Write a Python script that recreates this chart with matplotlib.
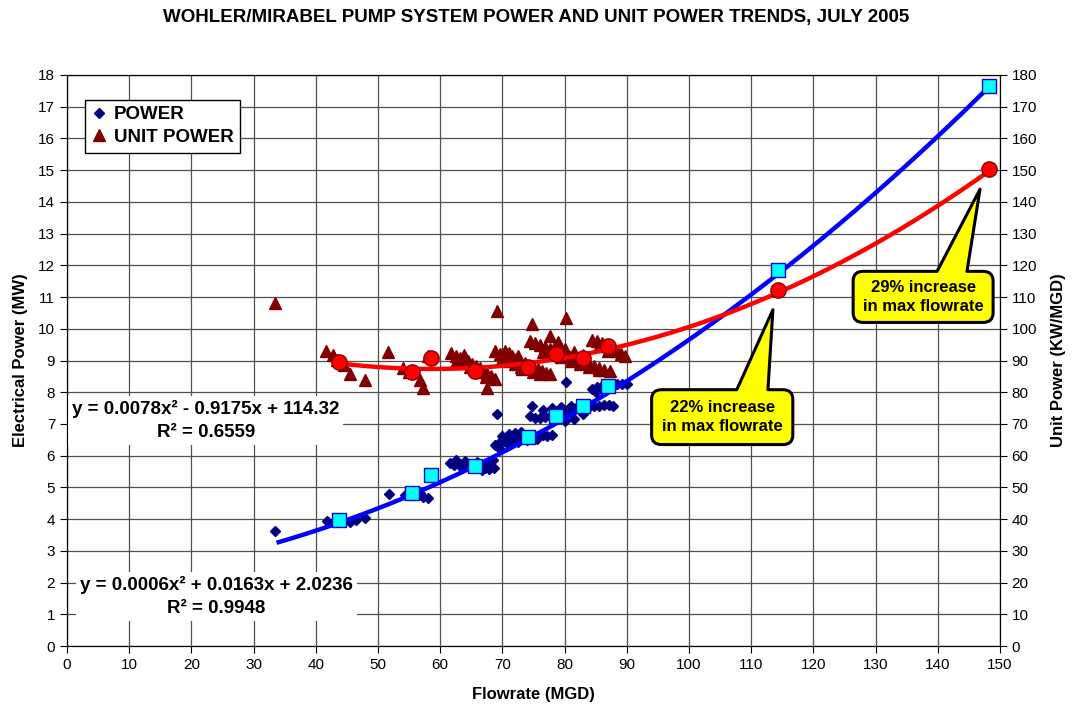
import numpy as np
import matplotlib
matplotlib.use('Agg')
import matplotlib.pyplot as plt
from matplotlib.path import Path
from matplotlib.patches import PathPatch
from matplotlib.lines import Line2D

plt.rcParams['font.family'] = ['Liberation Sans', 'DejaVu Sans']

# daily points - power (MW) vs flowrate (MGD)
pow_pts = [(33.5, 3.63), (41.8, 3.95), (43.0, 3.92), (45.5, 3.92), (46.5, 3.98), (47.9, 4.02),
           (51.7, 4.80), (54.3, 4.77), (55.0, 4.75), (57.3, 4.70), (56.8, 4.82), (58.0, 4.68),
           (69.1, 7.32), (80.2, 8.31),
           # ~62-69 MGD
           (61.6, 5.77), (62.3, 5.72), (63.0, 5.75), (63.7, 5.70), (64.4, 5.74), (65.1, 5.68),
           (65.8, 5.72), (66.5, 5.66), (67.2, 5.60), (67.9, 5.58), (68.6, 5.62), (62.5, 5.85),
           (64.0, 5.82), (66.0, 5.80), (67.5, 5.75), (68.5, 5.85), (66.8, 5.55), (63.5, 5.62),
           # ~69-78 MGD
           (68.8, 6.35), (69.5, 6.40), (70.2, 6.46), (70.9, 6.52), (71.6, 6.56), (72.3, 6.60),
           (73.0, 6.62), (73.7, 6.64), (74.4, 6.60), (75.1, 6.64), (75.8, 6.62), (76.5, 6.66),
           (77.2, 6.62), (78.0, 6.66), (70.0, 6.62), (71.0, 6.68), (72.0, 6.70), (69.5, 6.25),
           (71.0, 6.35), (72.5, 6.42), (74.0, 6.48), (75.5, 6.52), (73.0, 6.75),
           # ~74-88 MGD
           (74.4, 7.24), (75.2, 7.20), (76.0, 7.18), (76.8, 7.22), (77.6, 7.26), (78.4, 7.30),
           (79.2, 7.34), (80.0, 7.38), (80.8, 7.40), (81.6, 7.44), (82.4, 7.48), (83.2, 7.52),
           (84.0, 7.55), (84.8, 7.57), (85.6, 7.58), (86.4, 7.60), (87.2, 7.60), (87.8, 7.58),
           (76.5, 7.45), (78.0, 7.50), (79.5, 7.55), (81.0, 7.58), (82.5, 7.62), (80.0, 7.10),
           (81.5, 7.15), (83.0, 7.30), (74.8, 7.58),
           # ~84-90 MGD
           (84.4, 8.10), (85.2, 8.15), (86.0, 8.20), (86.8, 8.24), (87.6, 8.26), (88.4, 8.25),
           (89.2, 8.26), (90.0, 8.25), (85.0, 8.02), (86.5, 8.05)]

# daily points - unit power (KW/MGD) vs flowrate (MGD)
unit_pts = [(33.4, 108.2), (41.7, 92.9), (42.7, 91.7), (43.4, 90.3), (44.5, 88.5), (45.5, 85.9),
            (47.9, 84.0), (51.6, 92.6), (54.1, 87.7), (55.0, 86.5), (56.7, 84.0), (57.3, 81.4),
            (58.1, 91.4), (67.5, 81.4), (73.1, 87.2),
            (69.1, 105.6), (74.7, 101.4), (80.2, 103.5), (77.7, 97.7), (79.0, 95.8),
            # ~62-69 MGD
            (61.8, 92.4), (62.5, 91.5), (63.2, 90.8), (63.8, 91.6), (64.5, 89.8), (65.2, 89.0),
            (65.8, 88.2), (66.4, 87.5), (67.0, 86.6), (67.6, 85.8), (68.2, 85.0), (68.8, 84.2),
            (63.0, 89.8), (64.8, 88.0), (66.0, 86.5), (67.3, 84.8), (62.5, 89.5),
            # ~69-78 MGD
            (68.8, 92.9), (69.6, 92.2), (70.3, 91.9), (71.0, 92.4), (71.6, 91.5), (72.2, 90.6),
            (72.9, 89.9), (73.6, 89.2), (74.3, 88.4), (75.0, 87.8), (75.7, 87.2), (76.4, 86.6),
            (77.0, 86.0), (77.7, 85.6), (70.0, 90.5), (71.0, 89.8), (72.0, 88.8), (73.0, 88.0),
            (74.0, 87.5), (75.0, 86.5), (76.0, 85.6), (70.5, 93.0), (72.5, 91.5),
            # ~74-87 MGD
            (74.4, 96.1), (75.2, 95.4), (76.0, 94.9), (76.8, 94.3), (77.6, 93.6), (78.4, 93.0),
            (79.2, 92.4), (80.0, 91.8), (80.8, 91.2), (81.6, 90.6), (82.4, 90.0), (83.2, 89.4),
            (84.0, 88.8), (84.8, 88.2), (85.6, 87.6), (86.4, 87.0), (87.3, 86.6), (76.5, 92.8),
            (78.0, 92.2), (79.5, 91.0), (81.0, 90.0), (82.5, 89.0), (84.0, 87.8), (85.5, 87.0),
            (80.0, 93.5), (81.5, 92.6), (83.0, 91.6), (78.5, 94.6),
            # ~84-90 MGD
            (84.4, 96.6), (85.2, 96.0), (86.0, 95.4), (86.8, 94.6), (87.6, 93.8), (88.4, 93.0),
            (89.0, 92.2), (89.7, 91.4), (85.5, 94.5), (87.0, 93.0)]

# averages + projected max flowrate points
avg_x = [43.8, 55.5, 58.6, 65.6, 74.2, 78.6, 82.9, 87.0, 114.3, 148.2]
avg_pow = [3.96, 4.82, 5.38, 5.69, 6.58, 7.26, 7.58, 8.21, 11.84, 17.65]
avg_unit = [89.6, 86.3, 90.8, 86.8, 88.0, 91.9, 90.8, 94.5, 112.1, 150.3]

# polynomial trendlines as printed on the chart
pow_coef = [0.0006, 0.0163, 2.0236]
unit_coef = [0.0078, -0.9175, 114.32]
pow_range = [33.7, 148.2]
unit_range = [43.8, 148.2]

pow_x, pow_y = zip(*pow_pts)
unit_x, unit_y = zip(*unit_pts)

fig = plt.figure(figsize=(10.73, 7.10), dpi=100)
ax = fig.add_axes([0.0624, 0.0901, 0.8695, 0.8043])
ax2 = ax.twinx()

ax.set_xlim(0, 150)
ax.set_ylim(0, 18)
ax2.set_ylim(0, 180)
ax.set_xticks(np.arange(0, 151, 10))
ax.set_yticks(np.arange(0, 19, 1))
ax2.set_yticks(np.arange(0, 181, 10))
ax.grid(True, color='#505050', linewidth=0.9, zorder=0)
ax.set_axisbelow(True)
for a in (ax, ax2):
    a.tick_params(labelsize=11, direction='out', length=5, color='black')
    for s in a.spines.values():
        s.set_color('black')

# unit power is drawn on the MW axis scaled by 1/10 (right axis = 10x left)
ax.plot(unit_x, np.array(unit_y) / 10.0, linestyle='none', marker='^', markersize=8,
        color='#800000', zorder=3)
ax.plot(pow_x, pow_y, linestyle='none', marker='D', markersize=5.5, color='#000080', zorder=3)

xx = np.linspace(pow_range[0], pow_range[1], 200)
ax.plot(xx, np.polyval(pow_coef, xx), color='#0000FF', linewidth=3.2, zorder=4, solid_capstyle='butt')
xr = np.linspace(unit_range[0], unit_range[1], 200)
ax.plot(xr, np.polyval(unit_coef, xr) / 10.0, color='#FF0000', linewidth=3.2, zorder=4, solid_capstyle='butt')

ax.plot(avg_x, avg_pow, linestyle='none', marker='s', markersize=10, markerfacecolor='#00FFFF',
        markeredgecolor='#0000CC', markeredgewidth=1, zorder=5, clip_on=False)
ax.plot(avg_x, np.array(avg_unit) / 10.0, linestyle='none', marker='o', markersize=11,
        markerfacecolor='#FF0000', markeredgecolor='#8B0000', markeredgewidth=1, zorder=5, clip_on=False)

# trendline equations
ax.text(22.3, 7.12, 'y = 0.0078x² - 0.9175x + 114.32\nR² = 0.6559', ha='center', va='center',
        fontsize=13.5, fontweight='bold', linespacing=1.45, zorder=6,
        bbox=dict(facecolor='white', edgecolor='none', pad=3))
ax.text(24.0, 1.56, 'y = 0.0006x² + 0.0163x + 2.0236\nR² = 0.9948', ha='center', va='center',
        fontsize=13.5, fontweight='bold', linespacing=1.45, zorder=6,
        bbox=dict(facecolor='white', edgecolor='none', pad=3))


def callout(x0, x1, y0, y1, bx0, bx1, tip, text):
    rx, ry = 1.6, 0.3
    verts = [(x0 + rx, y0), (x1 - rx, y0), (x1, y0), (x1, y0 + ry), (x1, y1 - ry),
             (x1, y1), (x1 - rx, y1), (bx1, y1), tip, (bx0, y1), (x0 + rx, y1),
             (x0, y1), (x0, y1 - ry), (x0, y0 + ry), (x0, y0), (x0 + rx, y0), (x0 + rx, y0)]
    codes = [Path.MOVETO, Path.LINETO, Path.CURVE3, Path.CURVE3, Path.LINETO,
             Path.CURVE3, Path.CURVE3, Path.LINETO, Path.LINETO, Path.LINETO, Path.LINETO,
             Path.CURVE3, Path.CURVE3, Path.LINETO, Path.CURVE3, Path.CURVE3, Path.CLOSEPOLY]
    ax.add_patch(PathPatch(Path(verts, codes), facecolor='#FFFF00', edgecolor='black',
                           linewidth=2.2, zorder=7, joinstyle='round'))
    ax.text((x0 + x1) / 2, (y0 + y1) / 2, text, ha='center', va='center', fontsize=12,
            fontweight='bold', linespacing=1.35, zorder=8)


callout(94.0, 116.7, 6.35, 8.08, 107.7, 112.7, (113.5, 10.6), '22% increase\nin max flowrate')
callout(126.4, 148.9, 10.2, 11.81, 139.9, 144.7, (146.8, 14.4), '29% increase\nin max flowrate')

handles = [Line2D([], [], linestyle='none', marker='D', markersize=5.5, color='#000080'),
           Line2D([], [], linestyle='none', marker='^', markersize=8, color='#800000')]
leg = ax2.legend(handles, ['POWER', 'UNIT POWER'], loc='upper left', bbox_to_anchor=(0.019, 0.957),
                 borderaxespad=0, prop={'weight': 'bold', 'size': 13.5}, fancybox=False,
                 framealpha=1, edgecolor='black', handlelength=0.8, handletextpad=0.4,
                 borderpad=0.35, labelspacing=0.3)
leg.get_frame().set_linewidth(1)

ax.set_xlabel('Flowrate (MGD)', fontsize=12, fontweight='bold', labelpad=11)
ax.set_ylabel('Electrical Power (MW)', fontsize=12, fontweight='bold', labelpad=7)
ax2.set_ylabel('Unit Power (KW/MGD)', fontsize=12, fontweight='bold', labelpad=10)
fig.text(0.5, 0.975, 'WOHLER/MIRABEL PUMP SYSTEM POWER AND UNIT POWER TRENDS, JULY 2005',
         ha='center', va='center', fontsize=13.5, fontweight='bold')

fig.savefig('out.png', dpi=100)
